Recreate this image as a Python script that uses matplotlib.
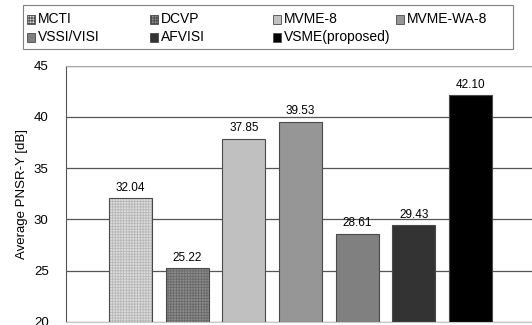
#!/usr/bin/env python3
"""Average PSNR-Y bar chart for the seven compared methods."""

import matplotlib
matplotlib.use("Agg")
import matplotlib.pyplot as plt
from matplotlib.patches import Rectangle

# ------------------------------- data -------------------------------- #
methods = ["MCTI", "DCVP", "MVME-8", "MVME-WA-8", "VSSI/VISI", "AFVISI", "VSME(proposed)"]
psnr_y = [32.04, 25.22, 37.85, 39.53, 28.61, 29.43, 42.10]
y_ticks = [20, 25, 30, 35, 40, 45]

# face colour and hatch per method (first two are checkered in the original)
face_colors = ["#dcdcdc", "#8c8c8c", "#c0c0c0", "#969696", "#808080", "#333333", "#000000"]
hatches = ["++++++", "++++++", None, None, None, None, None]
hatch_colors = ["#b8b8b8", "#6a6a6a", None, None, None, None, None]
# --------------------------------------------------------------------- #

plt.rcParams["font.family"] = ["Liberation Sans", "DejaVu Sans"]
plt.rcParams["hatch.linewidth"] = 0.6

W, H = 532, 325
fig = plt.figure(figsize=(W / 100, H / 100), dpi=100)


def px(x, y):
    """Pixel position (from top-left) -> figure fraction."""
    return x / W, 1 - y / H


# plot area in pixel coordinates of the reference
left, right, top, bottom = 66, 532, 65.5, 322
ax = fig.add_axes([left / W, 1 - bottom / H, (right - left) / W, (bottom - top) / H])

x = list(range(len(methods)))
bar_w = 0.76
for i, (v, fc) in enumerate(zip(psnr_y, face_colors)):
    if hatches[i]:
        plt.rcParams["hatch.color"] = hatch_colors[i]
        ax.bar(x[i], v - y_ticks[0], bottom=y_ticks[0], width=bar_w, color=fc,
               hatch=hatches[i], edgecolor=hatch_colors[i], linewidth=0, zorder=2)
    else:
        ax.bar(x[i], v - y_ticks[0], bottom=y_ticks[0], width=bar_w, color=fc,
               linewidth=0, zorder=2)
    ax.bar(x[i], v - y_ticks[0], bottom=y_ticks[0], width=bar_w, facecolor="none",
           edgecolor="#4a4a4a", linewidth=0.8, zorder=3)
    ax.text(x[i], v + 0.45, f"{v:.2f}", ha="center", va="bottom", fontsize=8.5, zorder=4)

ax.set_xlim(-1.14, 7.09)
ax.set_ylim(y_ticks[0], y_ticks[-1])
ax.set_yticks(y_ticks)
ax.set_xticks([])
ax.tick_params(axis="y", length=0, pad=12.5, labelsize=9.5)
ax.yaxis.grid(True, color="#555555", linewidth=0.9, zorder=0)
ax.set_axisbelow(True)
ax.spines["left"].set_color("#555555")
ax.spines["top"].set_color("#a8a8a8")
ax.spines["bottom"].set_color("#c8c8c8")
ax.spines["right"].set_visible(False)
ax.set_ylabel("Average PNSR-Y [dB]", fontsize=9.5, labelpad=4)

# legend box above the plot: 4 equal columns, filled row by row
x0, y0, x1, y1 = 23, 5, 513, 49
fig.patches.append(Rectangle(px(x0, y1), (x1 - x0) / W, (y1 - y0) / H,
                             transform=fig.transFigure, facecolor="white",
                             edgecolor="#808080", linewidth=0.8))
col_w, row_h = 123, 18
for i, m in enumerate(methods):
    cx = 27 + (i % 4) * col_w
    cy = 19 + (i // 4) * row_h
    if hatches[i]:
        plt.rcParams["hatch.color"] = hatch_colors[i]
    sq = Rectangle(px(cx, cy + 4.5), 8 / W, 9 / H, transform=fig.transFigure,
                   facecolor=face_colors[i], hatch=hatches[i] or "",
                   edgecolor="#4a4a4a", linewidth=0.6)
    fig.patches.append(sq)
    fig.text(*px(cx + 10.5, cy), m, ha="left", va="center", fontsize=10)

fig.savefig("out.png", dpi=100)
